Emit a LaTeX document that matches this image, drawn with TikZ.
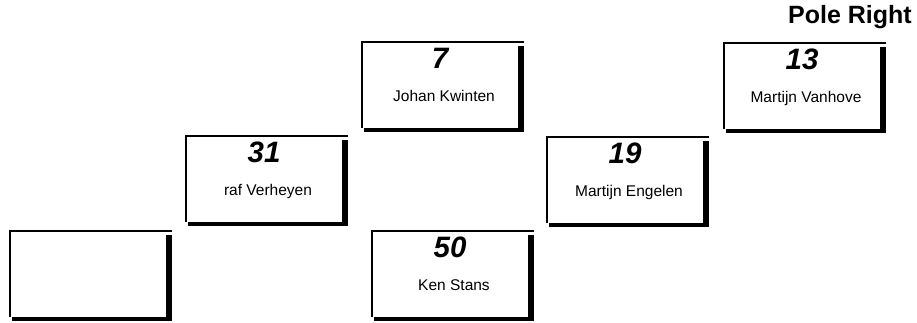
\documentclass[tikz,border=0pt]{standalone}
\usepackage{fontspec}
\setmainfont{Liberation Sans}

\begin{document}
\begin{tikzpicture}[x=1pt, y=-1pt, line join=miter,
	box/.style={minimum width=156pt, minimum height=86pt, inner sep=0pt},
	num/.style={anchor=base, inner sep=0pt, font=\fontsize{29.5}{30}\selectfont\bfseries\itshape},
	rider/.style={anchor=base, inner sep=0pt, font=\fontsize{15.5}{17}\selectfont}]
	\useasboundingbox (0,0) rectangle (917,322);

	% Titel
	\node[anchor=base east, inner sep=0pt, font=\fontsize{25}{27}\selectfont\bfseries] (pole) at (912,23) {Pole Right};

	% Vakken
	\node[box] (b0) at (88,274) {};
	\node[box] (b31) at (264,179) {};
	\node[box] (b7) at (440,85) {};
	\node[box] (b50) at (450,274) {};
	\node[box] (b19) at (625,180) {};
	\node[box] (b13) at (802,86) {};

	% Randen met schaduw
	\foreach \b in {b0,b31,b7,b50,b19,b13} {
		\draw[line width=2pt] ([xshift=6pt]\b.north east) -- (\b.north west) -- (\b.south west);
		\fill ([yshift=-4pt]\b.north east) rectangle ([xshift=6pt,yshift=-3.5pt]\b.south east);
		\fill ([xshift=2pt]\b.south west) rectangle ([yshift=-4pt]\b.south east);
	}

	% Nummers en namen
	\foreach \n/\r in {31/raf Verheyen, 7/Johan Kwinten, 50/Ken Stans, 19/Martijn Engelen, 13/Martijn Vanhove} {
		\node[num] (n\n) at ([yshift=-27pt]b\n.north) {\n};
		\node[rider] (r\n) at ([xshift=4pt,yshift=-60pt]b\n.north) {\r};
	}
\end{tikzpicture}
\end{document}
